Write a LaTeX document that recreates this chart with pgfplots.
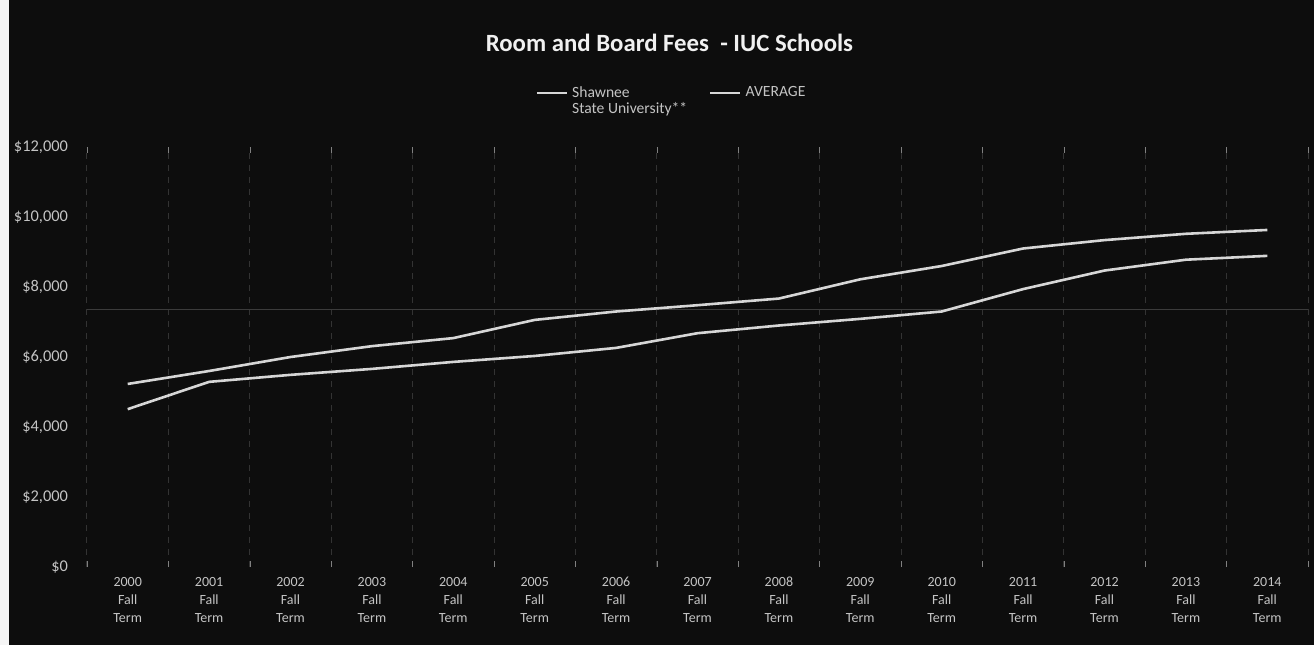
\documentclass[border=0pt]{standalone}
\usepackage{pgfplots}
\pgfplotsset{compat=1.18}
\usepackage{fontspec}
\setmainfont{Carlito}
\definecolor{bg}{HTML}{0D0D0D}
\definecolor{lab}{HTML}{C4C4C4}
\definecolor{ln}{HTML}{D6D6D6}
\definecolor{gridc}{HTML}{333333}
\begin{document}
\begin{tikzpicture}
\path[use as bounding box] (-43.5pt,-39pt) rectangle (613.5pt,283.5pt);
\fill[bg] (-43.5pt,-39pt) rectangle (613.5pt,283.5pt);
\fill[white!92!gray] (-43.5pt,-39pt) rectangle (-39pt,283.5pt);
\begin{axis}[
  scale only axis,
  width=610.5pt, height=210pt,
  at={(0pt,0pt)}, anchor=south west,
  xmin=-0.5, xmax=14.5,
  ymin=0, ymax=12000,
  axis line style={draw=none},
  major tick length=0pt,
  scaled y ticks=false,
  /pgf/number format/assume math mode=true,
  xtick={0,...,14},
  xticklabels={{2000\\Fall\\Term},{2001\\Fall\\Term},{2002\\Fall\\Term},{2003\\Fall\\Term},{2004\\Fall\\Term},{2005\\Fall\\Term},{2006\\Fall\\Term},{2007\\Fall\\Term},{2008\\Fall\\Term},{2009\\Fall\\Term},{2010\\Fall\\Term},{2011\\Fall\\Term},{2012\\Fall\\Term},{2013\\Fall\\Term},{2014\\Fall\\Term}},
  xticklabel style={align=center, font=\fontsize{7}{9}\selectfont, text=lab, yshift=-1.5pt},
  ytick={0,2000,4000,6000,8000,10000,12000},
  yticklabels={{\$0},{\$2,000},{\$4,000},{\$6,000},{\$8,000},{\$10,000},{\$12,000}},
  yticklabel style={font=\fontsize{8.2}{9}\selectfont, text=lab, xshift=-6pt},
  minor xtick={-0.5,0.5,...,14.5},
  xminorgrids=true,
  minor grid style={gridc, dashed, line width=0.5pt},
  extra y ticks={7350},
  extra y tick labels={},
  extra y tick style={grid=major, major grid style={color=gray!40!bg, line width=0.4pt}},
  title={\bfseries Room and Board Fees\ \ - IUC Schools},
  title style={at={(0.477,1)}, anchor=center, yshift=46pt, font=\fontsize{12.4}{14}\selectfont, text=white!88!gray},
  legend style={at={(0.4795,1.162)}, anchor=north, draw=none, fill=none,
    font=\fontsize{7.8}{9}\selectfont, text=lab, legend columns=2,
    /tikz/every even column/.append style={column sep=9pt}, inner sep=1pt},
  legend cell align=left,
  legend image code/.code={\draw[#1] (0pt,0pt) -- (15pt,0pt);},
]
\addplot[ln, line width=1.3pt] coordinates {
(0,4510) (1,5290) (2,5490) (3,5660) (4,5860) (5,6030) (6,6260) (7,6680) (8,6900) (9,7090) (10,7300) (11,7940) (12,8470) (13,8780) (14,8890)
};
\addlegendentry{\begin{tabular}[t]{@{}l@{}}Shawnee\\[-1pt]State University**\end{tabular}}
\addplot[ln, line width=1.3pt] coordinates {
(0,5230) (1,5600) (2,6000) (3,6310) (4,6540) (5,7060) (6,7300) (7,7480) (8,7670) (9,8220) (10,8600) (11,9100) (12,9340) (13,9520) (14,9630)
};
\addlegendentry{AVERAGE}
\end{axis}
\end{tikzpicture}
\end{document}
